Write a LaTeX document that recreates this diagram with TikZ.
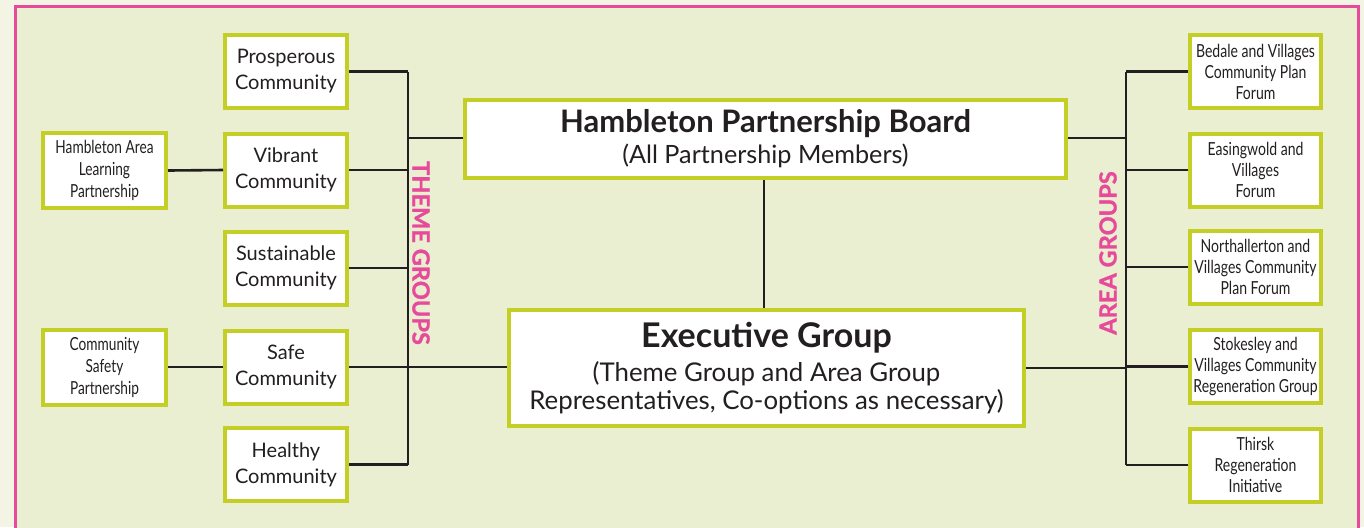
\documentclass[tikz,border=0pt]{standalone}
\usepackage{fontspec}
\setmainfont{Lato}
\newfontfamily\condfont[FakeStretch=0.76]{Lato}
\newfontfamily\areafont[FakeStretch=0.78]{Lato}
\newfontfamily\heavyfont[BoldFeatures={FakeBold=1.2}]{Lato}

\definecolor{framepink}{HTML}{E84A9B}
\definecolor{boxlime}{HTML}{C4CF25}
\definecolor{paper}{HTML}{EBEFD1}
\definecolor{margin}{HTML}{F4F4E4}
\definecolor{ink}{HTML}{231F20}

\begin{document}
\begin{tikzpicture}[x=0.5pt, y=-0.5pt,
        box/.style={draw=boxlime, line width=2pt, fill=white, inner sep=0pt,
            align=center, text=ink},
        themebox/.style={box, minimum width=61pt, minimum height=36.5pt,
            font=\fontsize{10}{13}\selectfont},
        sidebox/.style={box, minimum width=61.5pt, minimum height=37.5pt,
            font=\condfont\fontsize{9}{11}\selectfont},
        areabox/.style={box, minimum width=65.5pt, minimum height=36.5pt,
            font=\areafont\fontsize{9}{10.5}\selectfont},
        link/.style={draw=ink, line width=1.3pt},
        grouplabel/.style={text=framepink, font=\heavyfont\bfseries\fontsize{11.8}{13}\selectfont}]
        \useasboundingbox (0,0) rectangle (1364,527);
        % page and frame
        \fill[margin] (0,0) rectangle (1364,527);
        \draw[framepink, fill=paper, line width=1.5pt] (15,560) -- (15,6) -- (1358,6) -- (1358,560);

        % centre boxes
        \node[box, minimum width=300.5pt, minimum height=39pt,
              font=\fontsize{12.6}{16}\selectfont] (board) at (765.5,139)
            {{\bfseries\fontsize{15.5}{17}\selectfont Hambleton Partnership Board}\\[-0.5pt]
             (All Partnership Members)};
        \node[box, minimum width=257.5pt, minimum height=58pt,
              font=\fontsize{12.9}{14}\selectfont] (exec) at (766.5,368)
            {{\bfseries\fontsize{17}{19}\selectfont Executive Group}\\[3pt]
             (Theme Group and Area Group\\
              Representatives, Co-options as necessary)};

        % theme groups
        \node[themebox] (prosp) at (286,71.5) {Prosperous\\Community};
        \node[themebox] (vibrant) at (286,170) {Vibrant\\Community};
        \node[themebox] (sustain) at (286,268) {Sustainable\\Community};
        \node[themebox] (safe) at (286,367) {Safe\\Community};
        \node[themebox] (healthy) at (286,464.5) {Healthy\\Community};

        \node[sidebox] (learning) at (104.5,170.5) {Hambleton Area\\Learning\\Partnership};
        \node[sidebox] (safety) at (104.5,367) {Community\\Safety\\Partnership};

        % area groups
        \node[areabox] (bedale) at (1255.5,71.5) {Bedale and Villages\\Community Plan\\Forum};
        \node[areabox] (easing) at (1255.5,170) {Easingwold and\\Villages\\Forum};
        \node[areabox] (north) at (1255.5,267) {Northallerton and\\Villages Community\\Plan Forum};
        \node[areabox] (stokes) at (1255.5,366.5) {Stokesley and\\Villages Community\\Regeneration Group};
        \node[areabox] (thirsk) at (1255.5,465) {Thirsk\\Regeneration\\Initiative};

        \node[grouplabel, rotate=-90] (themelabel) at (421,253) {THEME GROUPS};
        \node[grouplabel, rotate=90] (arealabel) at (1108,253) {AREA GROUPS};

        % connectors
        \coordinate (tbus) at (408,138);
        \coordinate (abus) at (1126,138);
        \draw[link] (prosp.east -| tbus) -- (healthy.east -| tbus);
        \foreach \n in {prosp,vibrant,sustain,safe,healthy}
            \draw[link] (\n.east) -- (\n.east -| tbus);
        \draw[link] (tbus) -- (tbus -| board.west);
        \draw[link] (safe.east) -- (safe.east -| exec.west);
        \draw[link] (learning.east) -- (vibrant.west);
        \draw[link] (safety.east) -- (safe.west);

        \draw[link] (abus |- bedale.west) -- (abus |- thirsk.west);
        \foreach \n in {bedale,easing,north,stokes,thirsk}
            \draw[link] (\n.west) -- (\n.west -| abus);
        \draw[link] (abus) -- (abus -| board.east);
        \draw[link] (exec.east) -- (exec.east -| abus);

        \draw[link] (board.south -| 764,0) -- (exec.north -| 764,0);
    \end{tikzpicture}
\end{document}
